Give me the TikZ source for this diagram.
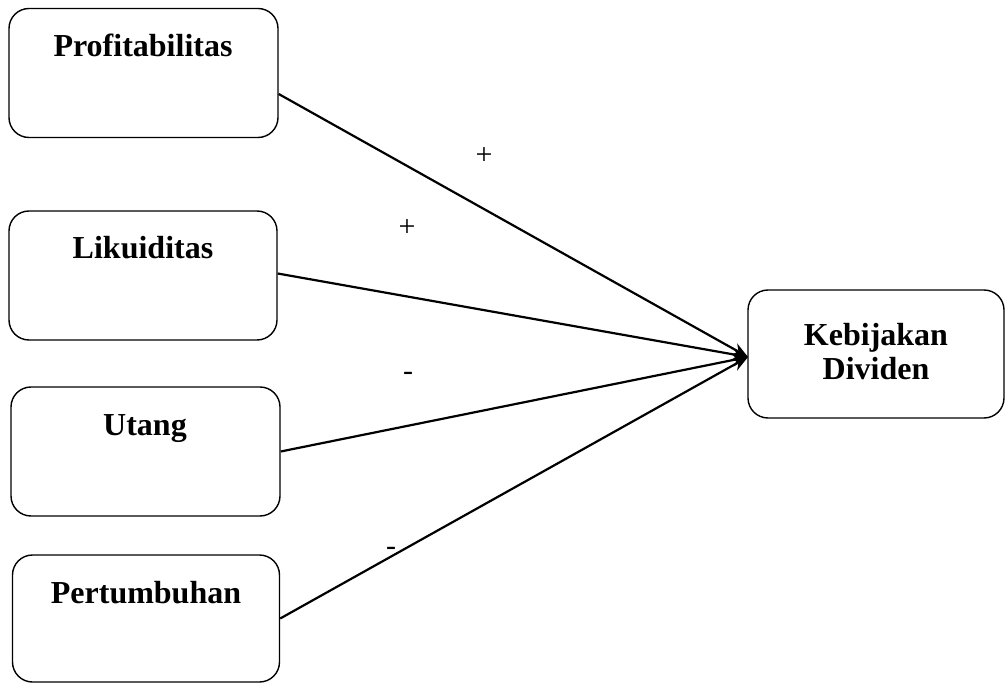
\documentclass[tikz,border=0pt]{standalone}
\usepackage{fontspec}
\setmainfont{Liberation Serif}
\usetikzlibrary{arrows.meta}
\begin{document}
\begin{tikzpicture}[x=1pt,y=-1pt,
  box/.style={draw,line width=1.4pt,rounded corners=20pt,inner sep=0pt},
  title/.style={font=\fontsize{32}{34}\selectfont\bfseries,anchor=base,inner sep=0pt},
  sign/.style={font=\fontsize{30}{30}\selectfont,inner sep=0pt},
  link/.style={line width=2.2pt,-{Stealth[length=16pt,width=13pt]}}]
\useasboundingbox (0,0) rectangle (1006,684);
% boxes
\node[box,minimum width=269pt,minimum height=129pt] (p) at (143.5,73) {};
\node[box,minimum width=268pt,minimum height=129pt] (l) at (143,275.5) {};
\node[box,minimum width=269pt,minimum height=129pt] (u) at (145.5,451.5) {};
\node[box,minimum width=267pt,minimum height=127pt] (g) at (146,618.5) {};
\node[box,minimum width=256pt,minimum height=128pt] (k) at (876,354) {};
% titles
\node[title] (tp) at (143,57) {Profitabilitas};
\node[title] (tl) at (143,259) {Likuiditas};
\node[title] (tu) at (145,435) {Utang};
\node[title] (tg) at (146,603) {Pertumbuhan};
\node[title] (tk1) at (876,345) {Kebijakan};
\node[title] (tk2) at (876,379) {Dividen};
% connectors
\coordinate (tip) at (748,357);
\draw[link] ([yshift=-21pt]p.east) -- (tip);
\draw[link] ([yshift=2pt]l.east) -- (tip);
\draw[link] (u.east) -- (tip);
\draw[link] (g.east) -- (tip);
% signs
\node[sign] (s1) at (484,156) {+};
\node[sign] (s2) at (407,228) {+};
\node[sign] (s3) at (408,376) {-};
\node[sign] (s4) at (391,551) {-};
\end{tikzpicture}
\end{document}
